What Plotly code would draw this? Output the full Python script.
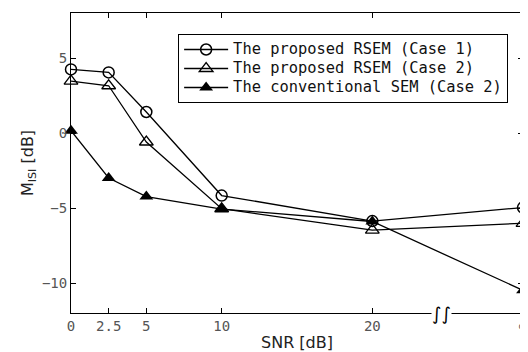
import plotly.graph_objects as go

snr = [0, 2.5, 5, 10, 20, 30]
snr_ticks = [0, 2.5, 5, 10, 20, 30]
snr_labels = ["0", "2.5", "5", "10", "20", "∞"]
y_ticks = [5, 0, -5, -10]
y_labels = ["5", "0", "−5", "−10"]

rsem_case1 = [4.24, 4.04, 1.4, -4.17, -5.87, -4.97]
rsem_case2 = [3.46, 3.15, -0.6, -5.05, -6.47, -6.02]
sem_case2 = [0.15, -3.0, -4.24, -5.07, -5.9, -10.49]

names = ["The proposed RSEM (Case 1)", "The proposed RSEM (Case 2)",
         "The conventional SEM (Case 2)"]

FONT = "DejaVu Sans"
MONO = "DejaVu Sans Mono"


def legend_label(s):
    return '<span style="font-size:15.4px">' + s + "</span>"


fig = go.Figure()
line = dict(color="black", width=1.3)
fig.add_trace(go.Scatter(x=snr, y=rsem_case1, name=legend_label(names[0]),
                         mode="lines+markers", line=line, cliponaxis=False,
                         marker=dict(symbol="circle-open", size=11, color="black",
                                     line=dict(width=1.5))))
fig.add_trace(go.Scatter(x=snr, y=rsem_case2, name=legend_label(names[1]),
                         mode="lines+markers", line=line, cliponaxis=False,
                         marker=dict(symbol="triangle-up-open", size=12, color="black",
                                     line=dict(width=1.3))))
fig.add_trace(go.Scatter(x=snr, y=sem_case2, name=legend_label(names[2]),
                         mode="lines+markers", line=line, cliponaxis=False,
                         marker=dict(symbol="triangle-up", size=12, color="black")))

axis_common = dict(showgrid=False, zeroline=False, showline=True, linecolor="black",
                   linewidth=1, mirror="ticks", ticks="inside", ticklen=5,
                   tickcolor="black", tickfont=dict(family=MONO, size=14, color="#555"))

# page body has an 8px margin, so the figure is sized to fit the 528x352 window
fig.update_layout(
    width=520, height=344,
    margin=dict(l=63, r=5, t=5, b=39, autoexpand=False),
    paper_bgcolor="white", plot_bgcolor="white",
    font=dict(family=FONT, color="black"),
    xaxis=dict(range=[0, 30], tickvals=snr_ticks, ticktext=snr_labels,
               title=dict(text="SNR [dB]", font=dict(size=16, family=FONT, color="#222"),
                          standoff=5),
               automargin=False, **axis_common),
    yaxis=dict(range=[-12, 8], tickvals=y_ticks, ticktext=y_labels,
               title=dict(text="M<sub>ISI</sub> [dB]", font=dict(size=16, family=FONT, color="#222"),
                          standoff=4),
               automargin=False, **axis_common),
    legend=dict(x=0.237, y=0.93, xanchor="left", yanchor="top",
                bordercolor="black", borderwidth=1, bgcolor="white",
                font=dict(family=MONO, size=12, color="#111"),
                itemwidth=44, tracegroupgap=0),
    showlegend=True,
)

fig.add_annotation(x=24.6, y=-12, xref="x", yref="y", text="∫∫", showarrow=False,
                   font=dict(family=FONT, size=18, color="black"), bgcolor="white",
                   borderpad=0)

fig.write_html("out.html")
